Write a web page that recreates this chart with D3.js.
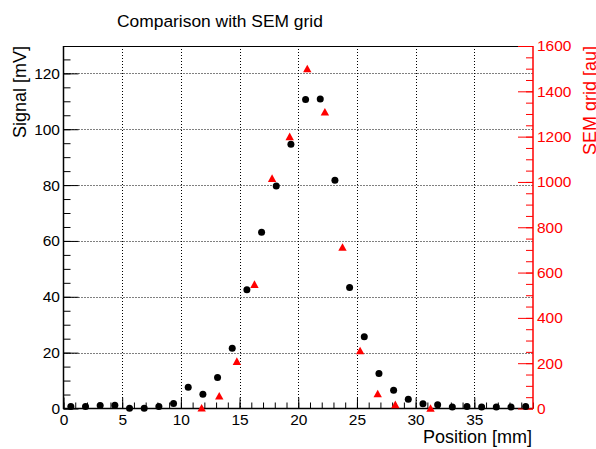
<!DOCTYPE html>
<html><head><meta charset="utf-8">
<script src="https://cdn.jsdelivr.net/npm/d3@7"></script>
<style>
html,body{margin:0;padding:0;background:#fff;}
svg{display:block;font-family:"Liberation Sans",Arial,sans-serif;}
</style></head>
<body><svg id="c" width="596" height="449"></svg>
<script>
const title = "Comparison with SEM grid";
const xTitle = "Position [mm]";
const yTitle = "Signal [mV]";
const y2Title = "SEM grid [au]";

const signalX = [0.625,1.875,3.125,4.375,5.625,6.875,8.125,9.375,10.625,11.875,13.125,14.375,15.625,16.875,18.125,19.375,20.625,21.875,23.125,24.375,25.625,26.875,28.125,29.375,30.625,31.875,33.125,34.375,35.625,36.875,38.125,39.375];
const signalY = [0.7,0.7,1.1,1.2,0.1,0.1,0.7,1.8,7.6,5.1,11.1,21.6,42.5,63.1,79.7,94.6,110.6,110.8,81.7,43.3,25.7,12.5,6.5,3.3,1.7,1.3,0.5,0.7,0.5,0.5,0.5,0.7];

const semX = [11.77,13.27,14.77,16.27,17.77,19.27,20.77,22.27,23.77,25.27,26.77,28.27,31.27];
const semY = [3,56,209,549,1017,1201,1501,1310,713,256,66,18,2];

const xTicks = [0,5,10,15,20,25,30,35];
const yTicks = [0,20,40,60,80,100,120];
const y2Ticks = [0,200,400,600,800,1000,1200,1400,1600];

const L = 63.5, R = 533, T = 46, B = 408.5;
const x = d3.scaleLinear().domain([0,40]).range([L,R]);
const y = d3.scaleLinear().domain([0,129.8]).range([B,T]);
const y2 = d3.scaleLinear().domain([0,1600]).range([B,T]);

const svg = d3.select("#c");
const red = "#ff0000";

// grid
const g = svg.append("g");
g.selectAll("line.vx").data(xTicks.filter(t=>t>0)).join("line")
  .attr("x1",d=>Math.round(x(d))+0.5).attr("x2",d=>Math.round(x(d))+0.5)
  .attr("y1",T).attr("y2",B).attr("stroke","#000").attr("stroke-dasharray","1,2").attr("stroke-width",1);
g.selectAll("line.hy").data(yTicks.filter(t=>t>0)).join("line")
  .attr("y1",d=>Math.round(y(d))+0.5).attr("y2",d=>Math.round(y(d))+0.5)
  .attr("x1",L).attr("x2",R).attr("stroke","#000").attr("stroke-dasharray","1,2").attr("stroke-width",1);

// frame top
svg.append("line").attr("x1",L).attr("x2",R).attr("y1",T+0.5).attr("y2",T+0.5).attr("stroke","#000");

const fs = "15.5px";
// bottom axis
const minorX = d3.range(0,41,1);
svg.append("g").attr("transform",`translate(0,${B})`)
  .call(d3.axisTop(x).tickValues(minorX).tickSize(6).tickFormat(""))
  .call(a=>a.select(".domain").remove());
const xa = svg.append("g").attr("transform",`translate(0,${B})`)
  .call(d3.axisTop(x).tickValues(xTicks).tickSize(11).tickFormat(d3.format("d")));
xa.select(".domain").remove();
xa.selectAll("text").attr("y",16.5).attr("dy","0").attr("font-size",fs).attr("font-family","Liberation Sans, Arial, sans-serif").attr("fill","#000");
svg.append("line").attr("x1",L).attr("x2",R).attr("y1",B).attr("y2",B).attr("stroke","#000").attr("stroke-width",1.5);

// left axis
const minorY = d3.range(0,130,5);
svg.append("g").attr("transform",`translate(${L},0)`)
  .call(d3.axisRight(y).tickValues(minorY).tickSize(7).tickFormat(""))
  .call(a=>a.select(".domain").remove());
const ya = svg.append("g").attr("transform",`translate(${L},0)`)
  .call(d3.axisRight(y).tickValues(yTicks).tickSize(15).tickFormat(d3.format("d")));
ya.select(".domain").remove();
ya.selectAll("text").attr("x",-3.5).attr("text-anchor","end").attr("font-size",fs).attr("font-family","Liberation Sans, Arial, sans-serif").attr("fill","#000");
svg.append("line").attr("x1",L).attr("x2",L).attr("y1",T).attr("y2",B+0.5).attr("stroke","#000").attr("stroke-width",1.5);

// right axis
const minorY2 = d3.range(0,1601,50);
const r1 = svg.append("g").attr("transform",`translate(${R},0)`)
  .call(d3.axisLeft(y2).tickValues(minorY2).tickSize(7).tickFormat(""));
r1.select(".domain").remove();
r1.selectAll("line").attr("stroke",red);
const ra = svg.append("g").attr("transform",`translate(${R},0)`)
  .call(d3.axisLeft(y2).tickValues(y2Ticks).tickSize(15).tickFormat(d3.format("d")));
ra.select(".domain").remove();
ra.selectAll("line").attr("stroke",red);
ra.selectAll("text").attr("x",4).attr("text-anchor","start").attr("font-size",fs).attr("font-family","Liberation Sans, Arial, sans-serif").attr("fill",red);
svg.append("line").attr("x1",R).attr("x2",R).attr("y1",T).attr("y2",B+0.5).attr("stroke",red).attr("stroke-width",1.5);

// data
const plot = svg.append("g");
plot.selectAll("circle").data(signalX.map((v,i)=>[v,signalY[i]])).join("circle")
  .attr("cx",d=>x(d[0])).attr("cy",d=>y(d[1])).attr("r",3.5).attr("fill","#000");
const tw = 4.2, th = 3.8;
plot.selectAll("path.tri").data(semX.map((v,i)=>[v,semY[i]])).join("path")
  .attr("class","tri")
  .attr("d",d=>{const cx=x(d[0]), cy=y2(d[1]); return `M${cx-tw},${cy+th}L${cx+tw},${cy+th}L${cx},${cy-th}Z`;})
  .attr("fill",red);

// titles
svg.append("text").attr("x",117).attr("y",26.5).attr("font-size","17.4px").attr("fill","#000").text(title);
svg.append("text").attr("x",532).attr("y",443).attr("text-anchor","end").attr("font-size","18px").attr("fill","#000").text(xTitle);
svg.append("text").attr("transform","translate(26,46) rotate(-90)").attr("text-anchor","end").attr("font-size","18px").attr("fill","#000").text(yTitle);
svg.append("text").attr("transform","translate(596,46) rotate(-90)").attr("text-anchor","end").attr("font-size","18px").attr("fill",red).text(y2Title);
</script>
</body></html>
